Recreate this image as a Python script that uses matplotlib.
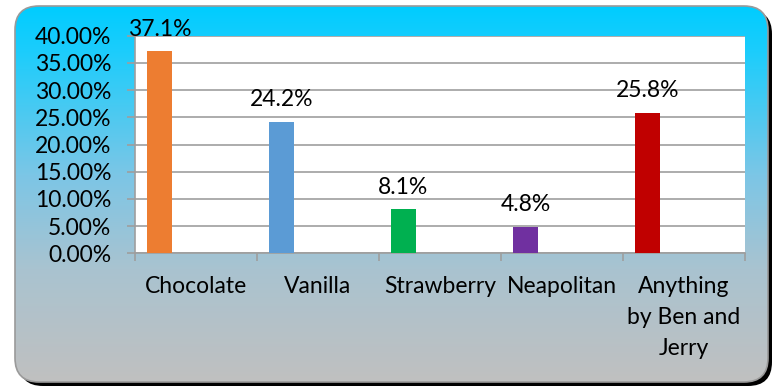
import numpy as np
import matplotlib
matplotlib.use("Agg")
import matplotlib.pyplot as plt
import matplotlib.ticker as tkr
from matplotlib.patches import FancyBboxPatch
from matplotlib.colors import LinearSegmentedColormap

# Favourite ice cream flavours (share of votes)
flavours = ["Chocolate", "Vanilla", "Strawberry", "Neapolitan",
            "Anything\nby Ben and\nJerry"]
shares = [37.1, 24.2, 8.1, 4.8, 25.8]
bar_colors = ["#ED7D31", "#5B9BD5", "#00B050", "#7030A0", "#C00000"]
y_ticks = [0, 5, 10, 15, 20, 25, 30, 35, 40]

plt.rcParams['font.family'] = ['Lato', 'DejaVu Sans']
FS = 16.5

W, H = 772, 387
fig = plt.figure(figsize=(W / 100, H / 100), dpi=100)

# background card: rounded box with cyan-to-grey gradient and a drop shadow
bg = fig.add_axes([0, 0, 1, 1])
bg.set_xlim(0, W)
bg.set_ylim(H, 0)
bg.axis('off')

x0, y0, x1, y1 = 15, 6, 768, 382
rad = 24
shadow = FancyBboxPatch((x0 + 4, y0 + 4), x1 - x0, y1 - y0,
                        boxstyle=f"round,pad=0,rounding_size={rad}",
                        fc='black', ec='none', zorder=1)
bg.add_patch(shadow)
card = FancyBboxPatch((x0, y0), x1 - x0, y1 - y0,
                      boxstyle=f"round,pad=0,rounding_size={rad}",
                      fc='none', ec='#9A9A9A', lw=1.2, zorder=3)
bg.add_patch(card)

grad_cmap = LinearSegmentedColormap.from_list(
    "card", [(0.0, "#00CCFF"), (0.12, "#1CCDFC"), (0.45, "#7CC6E6"),
             (0.70, "#A9C3D0"), (1.0, "#C0C0C0")])
grad = np.linspace(0, 1, 256).reshape(-1, 1)
img = bg.imshow(grad, cmap=grad_cmap, extent=(x0, x1, y1, y0),
                aspect='auto', zorder=2)
img.set_clip_path(card)

# plot area
left, right, top, bottom = 135, 745, 35.7, 253.3
ax = fig.add_axes([left / W, 1 - bottom / H, (right - left) / W, (bottom - top) / H])
ax.set_facecolor('white')

x = np.arange(len(flavours))
ax.bar(x + 0.1, shares, width=0.2, align='edge', color=bar_colors, zorder=3)

for xi, v in zip(x, shares):
    ax.annotate(f"{v:.1f}%", xy=(xi + 0.2, v), xytext=(0, 16),
                textcoords='offset points', ha='center', va='center',
                fontsize=FS, color='black', annotation_clip=False, zorder=5)

ax.set_xlim(0, len(flavours))
ax.set_ylim(0, 40)
ax.set_yticks(y_ticks)
ax.yaxis.set_major_formatter(tkr.FuncFormatter(lambda y, _: f"{y:.2f}%"))
ax.grid(axis='y', color='#9E9E9E', lw=1.2, zorder=0)

ax.set_xticks(np.arange(len(flavours) + 1))
ax.set_xticklabels([])
ax.set_xticks(x + 0.5, minor=True)
ax.set_xticklabels(flavours, minor=True, fontsize=FS, linespacing=1.6, va='top')
ax.tick_params(axis='x', which='minor', length=0, pad=16)
ax.tick_params(axis='x', which='major', length=6, color='#9E9E9E', width=1.2)
ax.tick_params(axis='y', length=6, color='#9E9E9E', width=1.2, labelsize=FS, pad=11)

for side in ['top', 'right']:
    ax.spines[side].set_visible(False)
for side in ['left', 'bottom']:
    ax.spines[side].set_color('#9E9E9E')
    ax.spines[side].set_linewidth(1.2)

fig.savefig("out.png", dpi=100)
